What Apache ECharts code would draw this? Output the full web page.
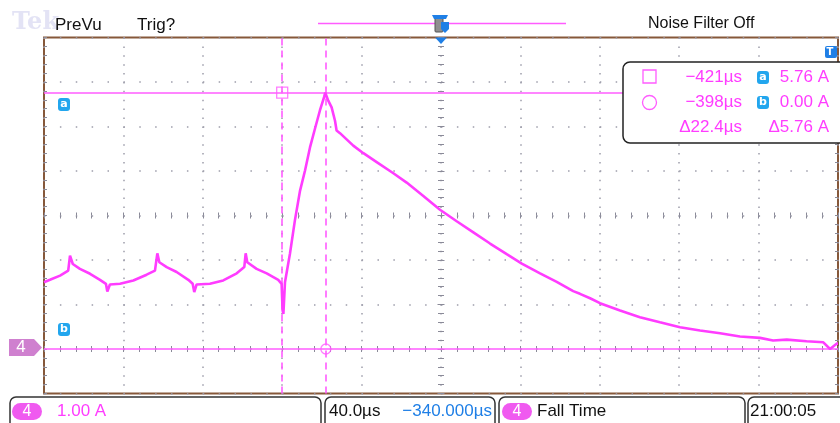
<!DOCTYPE html>
<html><head><meta charset="utf-8">
<script src="https://cdn.jsdelivr.net/npm/echarts@6/dist/echarts.min.js"></script>
<style>html,body{margin:0;padding:0;background:#fff}#c{width:840px;height:423px}</style>
</head><body><div id="c"></div>
<script>
// ---- data (µs, A) ----
const timeUs = [
  -540, -537.0, -531.9, -527.8, -526.9, -526.4, -525.5, -521.9, -516.8, -511.8, -508.8, -508.1, -506.8,
  -501.7, -495.0, -488.3, -484.1, -482.9, -481.9, -478.2, -473.2, -467.3, -465.1, -464.3, -463.1,
  -456.4, -449.7, -442.9, -439.1, -438.4, -437.6, -432.9, -427.8, -422.0, -420.3, -419.8, -419.4,
  -418.6, -416.1, -413.6, -411.0, -408.5, -406.0, -403.5, -401.0, -398.9, -398.3,
  -396.8, -395.1, -393.4, -392.6, -390.9, -384.2, -379.1, -372.4, -364.0, -357.3, -348.9, -340.5,
  -332.1, -323.7, -315.3, -306.9, -299.3, -290.1, -281.7, -273.4, -270.0, -264.9, -259.9,
  -249.8, -239.8, -229.7, -219.6, -209.5, -199.4, -189.4, -179.3, -172.7, -165.8, -155.8, -147.4, -144.0, -140.7, -140
];
const currentA = [
  1.50, 1.555, 1.65, 1.76, 2.10, 2.12, 1.91, 1.80, 1.69, 1.555, 1.465, 1.29, 1.45,
  1.465, 1.54, 1.67, 1.76, 2.15, 1.95, 1.84, 1.73, 1.555, 1.465, 1.28, 1.45,
  1.465, 1.54, 1.70, 1.84, 2.15, 1.95, 1.80, 1.70, 1.555, 1.465, 0.865, 0.79,
  1.50, 2.14, 2.89, 3.56, 4.01, 4.53, 4.95, 5.36, 5.66, 5.76,
  5.58, 5.43, 5.13, 4.91, 4.85, 4.57, 4.40, 4.20, 3.95, 3.74, 3.44, 3.13,
  2.87, 2.62, 2.37, 2.13, 1.92, 1.70, 1.51, 1.30, 1.24, 1.14, 1.03,
  0.865, 0.715, 0.60, 0.49, 0.415, 0.355, 0.28, 0.25, 0.19, 0.21, 0.175, 0.15, 0.0, 0.12, 0.12
];
const cursorTimes = [-420, -398];      // vertical cursors (µs)
const cursorLevels = [5.76, 0.00];     // horizontal cursors a, b (A)
const xRange = [-540, -140];           // 40 µs/div, centre -340 µs
const yRange = [-1, 7];                // 1.00 A/div
const readoutTimes = ['−421µs', '−398µs', 'Δ22.4µs'];
const readoutAmps = ['5.76 A', '0.00 A', 'Δ5.76 A'];
const statusTexts = ['1.00 A', '40.0µs', '−340.000µs', 'Fall Time', '21:00:05'];

const FONT = "'Liberation Sans',Arial,sans-serif";
const brown = '#86583a', tickGrey = '#8a8a98', dotGrey = '#9d9dab';
const magenta = '#ff3cff', cursorPink = '#ff5cff', blue = '#1f7fe6', cyan = '#22a6ee';

function xAx(extra) {
  return Object.assign({
    type: 'value', min: xRange[0], max: xRange[1], interval: 40,
    axisLabel: { show: false }, axisLine: { show: false }, splitLine: { show: false },
    axisTick: { show: true, inside: true, length: 3, lineStyle: { color: tickGrey, width: 1 } },
    minorTick: { show: true, splitNumber: 5, length: 3, lineStyle: { color: tickGrey, width: 1 } }
  }, extra);
}
function yAx(extra) {
  return Object.assign({
    type: 'value', min: yRange[0], max: yRange[1], interval: 1,
    axisLabel: { show: false }, axisLine: { show: false }, splitLine: { show: false },
    axisTick: { show: true, inside: true, length: 3, lineStyle: { color: tickGrey, width: 1 } },
    minorTick: { show: true, splitNumber: 5, length: 3, lineStyle: { color: tickGrey, width: 1 } }
  }, extra);
}
function txt(x, y, text, color, size, align, extra) {
  return { type: 'text', z: 40, style: Object.assign({ x, y, text, fill: color, font: size + 'px ' + FONT, textAlign: align || 'left', textVerticalAlign: 'middle' }, extra || {}) };
}
function rrect(x, y, w, h, r, fill, stroke, lw, z) {
  return { type: 'rect', z: z || 30, shape: { x, y, width: w, height: h, r }, style: { fill, stroke, lineWidth: lw || 0 } };
}
function badge(x, y, letter, color) {
  return [rrect(x, y, 12, 13, 3, color, null, 0, 35), txt(x + 6, y + 6.5, letter, '#fff', 11, 'center', { font: 'bold 11px DejaVu Sans' })];
}

const chart = echarts.init(document.getElementById('c'), null, { renderer: 'canvas' });

const graphic = [
  txt(12, 23, 'Tek', '#e3e3f5', 24, 'left', { font: 'bold 24px DejaVu Serif' }),
  txt(55, 25, 'PreVu', '#111', 17),
  txt(137, 25, 'Trig?', '#111', 17),
  txt(648, 24, 'Noise Filter Off', '#111', 16),
  { type: 'line', z: 30, shape: { x1: 318, y1: 23.5, x2: 566, y2: 23.5 }, style: { stroke: cursorPink, lineWidth: 1.5 } },
  // trigger position icon
  rrect(435, 16, 8, 16, 1, '#8f8f8f', '#555', 1, 35),
  { type: 'polygon', z: 36, shape: { points: [[432, 15], [448, 15], [446, 19], [434, 19]] }, style: { fill: blue } },
  { type: 'polygon', z: 36, shape: { points: [[441, 22], [449, 22], [449, 29], [445, 33], [441, 29]] }, style: { fill: blue } },
  { type: 'polygon', z: 36, shape: { points: [[435, 37.5], [447, 37.5], [441, 44]] }, style: { fill: blue } },
  // trigger level icon top right
  rrect(825, 46, 12, 12, 2, blue, null, 0, 35),
  txt(830, 52, 'T', '#fff', 10, 'center', { font: 'bold 10px DejaVu Sans' }),
  // ground marker
  { type: 'polygon', z: 35, shape: { points: [[9, 339], [34, 339], [42, 347.5], [34, 356], [9, 356]] }, style: { fill: '#cf80cf' } },
  txt(21, 347.5, '4', '#fff', 17, 'center'),
  ...badge(58, 98, 'a', cyan),
  ...badge(58, 323, 'b', cyan),
  // readout box
  rrect(623, 62, 230, 81, 7, '#fff', '#222', 1.5, 30),
  { type: 'rect', z: 35, shape: { x: 643, y: 70, width: 13, height: 13 }, style: { fill: 'none', stroke: cursorPink, lineWidth: 1.3 } },
  { type: 'circle', z: 35, shape: { cx: 649.5, cy: 102.5, r: 7 }, style: { fill: 'none', stroke: cursorPink, lineWidth: 1.3 } },
  txt(742, 77.5, readoutTimes[0], magenta, 17, 'right'),
  txt(742, 102.5, readoutTimes[1], magenta, 17, 'right'),
  txt(742, 127.5, readoutTimes[2], magenta, 17, 'right'),
  ...badge(757, 71, 'a', cyan),
  ...badge(757, 96, 'b', cyan),
  txt(829, 77.5, readoutAmps[0], magenta, 17, 'right'),
  txt(829, 102.5, readoutAmps[1], magenta, 17, 'right'),
  txt(829, 127.5, readoutAmps[2], magenta, 17, 'right'),
  // status bar
  rrect(10, 397, 311, 40, 6, '#fff', '#333', 1.5, 30),
  rrect(325, 397, 170, 40, 6, '#fff', '#333', 1.5, 30),
  rrect(499, 397, 246, 40, 6, '#fff', '#333', 1.5, 30),
  rrect(748, 397, 100, 40, 6, '#fff', '#333', 1.5, 30),
  rrect(12, 403, 30, 17, 8.5, '#f05af0', null, 0, 35),
  txt(27, 411.5, '4', '#fff', 16, 'center'),
  txt(57, 411.5, statusTexts[0], magenta, 17),
  txt(329, 411.5, statusTexts[1], '#111', 17),
  txt(492, 411.5, statusTexts[2], blue, 17, 'right'),
  rrect(502, 403, 30, 17, 8.5, '#f05af0', null, 0, 35),
  txt(517, 411.5, '4', '#fff', 16, 'center'),
  txt(537, 411.5, statusTexts[3], '#111', 17),
  txt(750, 411.5, statusTexts[4], '#111', 17)
];

chart.setOption({
  animation: false,
  backgroundColor: '#fff',
  grid: { left: 44, top: 37.5, width: 794, height: 356, show: true, borderColor: brown, borderWidth: 2, backgroundColor: 'transparent', outerBoundsMode: 'none', containLabel: false },
  xAxis: [
    xAx({ position: 'bottom', splitLine: { show: true, lineStyle: { color: dotGrey, width: 1.5, type: [1.5, 7.39] } } }),
    xAx({ position: 'top' }),
    xAx({ position: 'bottom', offset: -178, axisTick: { show: true, inside: true, length: 3, lineStyle: { color: tickGrey } } }),
    xAx({ position: 'bottom', offset: -178, axisTick: { show: true, inside: false, length: 3, lineStyle: { color: tickGrey } }, minorTick: { show: true, splitNumber: 5, length: 3, lineStyle: { color: tickGrey } } })
  ],
  yAxis: [
    yAx({ position: 'left', splitLine: { show: true, lineStyle: { color: dotGrey, width: 1.5, type: [1.5, 14.38] } } }),
    yAx({ position: 'right' }),
    yAx({ position: 'left', offset: -397, axisTick: { show: true, inside: true, length: 3.5, lineStyle: { color: tickGrey } } }),
    yAx({ position: 'left', offset: -397, axisTick: { show: true, inside: false, length: 3.5, lineStyle: { color: tickGrey } }, minorTick: { show: true, splitNumber: 5, length: 3, lineStyle: { color: tickGrey } } })
  ],
  series: [
    {
      type: 'line', data: timeUs.map((t, i) => [t, currentA[i]]), symbol: 'none', z: 5,
      lineStyle: { color: magenta, width: 2.6 },
      markLine: {
        silent: true, symbol: 'none', label: { show: false }, animation: false,
        data: [
          { yAxis: cursorLevels[0], lineStyle: { color: cursorPink, width: 1.6, type: 'solid' } },
          { yAxis: cursorLevels[1], lineStyle: { color: cursorPink, width: 1.6, type: 'solid' } },
          { xAxis: cursorTimes[0], lineStyle: { color: cursorPink, width: 1.6, type: [7, 5] } },
          { xAxis: cursorTimes[1], lineStyle: { color: cursorPink, width: 1.6, type: [7, 5] } }
        ]
      }
    },
    { type: 'scatter', z: 6, data: [[cursorTimes[0], cursorLevels[0]]], symbol: 'rect', symbolSize: 11, itemStyle: { color: 'rgba(0,0,0,0)', borderColor: cursorPink, borderWidth: 1.3 } },
    { type: 'scatter', z: 6, data: [[cursorTimes[1], cursorLevels[1]]], symbol: 'circle', symbolSize: 10, itemStyle: { color: 'rgba(0,0,0,0)', borderColor: cursorPink, borderWidth: 1.3 } }
  ],
  graphic: graphic
});
</script></body></html>
